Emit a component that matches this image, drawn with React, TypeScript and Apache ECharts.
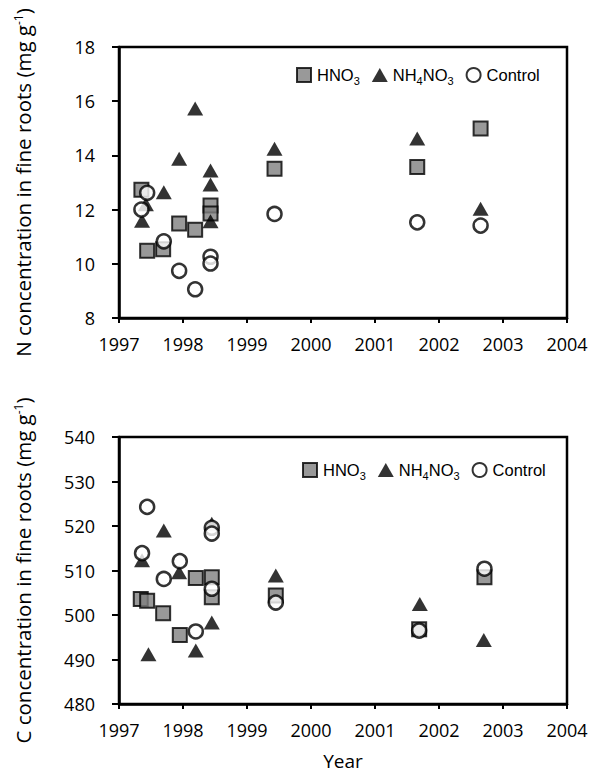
import React, { useEffect, useRef } from "react";
import * as echarts from "echarts";

// Year ticks
const yearMin = 1997;
const yearMax = 2004;

// Top panel: N concentration (mg g-1), points as [year, value]
const nHNO3: [number, number][] = [
  [1997.35, 12.73], [1997.44, 10.48], [1997.69, 10.54], [1997.94, 11.49],
  [1998.19, 11.26], [1998.43, 12.15], [1998.43, 11.86], [1999.43, 13.51],
  [2001.66, 13.57], [2002.65, 14.99],
];
const nNH4NO3: [number, number][] = [
  [1997.36, 11.59], [1997.42, 12.2], [1997.7, 12.64], [1997.94, 13.88],
  [1998.19, 15.73], [1998.43, 13.44], [1998.43, 12.93], [1998.43, 11.57],
  [1999.43, 14.25], [2001.66, 14.62], [2002.65, 12.03],
];
const nControl: [number, number][] = [
  [1997.44, 12.62], [1997.35, 12.0], [1997.7, 10.83], [1997.94, 9.74],
  [1998.19, 9.06], [1998.43, 10.26], [1998.43, 10.01], [1999.43, 11.84],
  [2001.66, 11.53], [2002.65, 11.41],
];

// Bottom panel: C concentration (mg g-1)
const cHNO3: [number, number][] = [
  [1997.34, 503.6], [1997.44, 503.2], [1997.69, 500.4], [1997.95, 495.5],
  [1998.2, 508.3], [1998.45, 508.5], [1998.45, 504.0], [1999.45, 504.4],
  [2001.69, 496.8], [2002.71, 508.5],
];
const cNH4NO3: [number, number][] = [
  [1997.36, 512.3], [1997.46, 491.2], [1997.7, 519.0], [1997.94, 509.6],
  [1998.2, 492.0], [1998.45, 520.5], [1998.45, 498.3], [1999.45, 508.9],
  [2001.7, 502.5], [2002.7, 494.4],
];
const cControl: [number, number][] = [
  [1997.36, 513.9], [1997.44, 524.3], [1997.7, 508.1], [1997.95, 512.1],
  [1998.2, 496.3], [1998.45, 519.6], [1998.45, 518.3], [1998.45, 505.9],
  [1999.45, 502.8], [2001.69, 496.5], [2002.71, 510.4],
];

const seriesNames = ["HNO3", "NH4NO3", "Control"];
const legendLabels: Record<string, string> = {
  HNO3: "HNO{sub|3}",
  NH4NO3: "NH{sub|4}NO{sub|3}",
  Control: "Control",
};

const tickFont = "Open Sans";
const legendFont = "Liberation Sans";

export default function App() {
  const ref = useRef<HTMLDivElement>(null);

  useEffect(() => {
    if (!ref.current) return;
    const chart = echarts.init(ref.current, null, { renderer: "svg" });

    const axisLine = { show: true, lineStyle: { color: "#000", width: 2.5 } };
    const yLabel = { color: "#000", fontFamily: tickFont, fontSize: 18, margin: 24 };
    const xLabel = {
      color: "#000",
      fontFamily: tickFont,
      fontSize: 18,
      margin: 17,
      formatter: (v: number) => String(v),
    };
    const nameStyle = {
      color: "#000",
      fontFamily: tickFont,
      fontSize: 20.5,
      rich: {
        sup: {
          fontFamily: tickFont,
          fontSize: 12,
          color: "#000",
          verticalAlign: "top",
          lineHeight: 12,
        },
      },
    };

    const styles: Record<string, any> = {
      HNO3: {
        symbol: "rect",
        symbolSize: 14,
        itemStyle: { color: "#808080", borderColor: "#000", borderWidth: 2 },
      },
      NH4NO3: {
        symbol: "triangle",
        symbolSize: [16, 14],
        itemStyle: { color: "#000" },
      },
      Control: {
        symbol: "circle",
        symbolSize: 14,
        itemStyle: { color: "#fff", borderColor: "#000", borderWidth: 2.5 },
      },
    };

    const mk = (name: string, data: [number, number][], idx: number) => ({
      type: "scatter",
      name,
      xAxisIndex: idx,
      yAxisIndex: idx,
      data,
      ...styles[name],
      emphasis: { disabled: true },
    });

    const legendCommon = {
      orient: "horizontal",
      itemWidth: 16,
      itemHeight: 14,
      itemGap: 12,
      selectedMode: false,
      data: [
        { name: "HNO3", icon: "path://M0,0H10V10H0Z" },
        { name: "NH4NO3", icon: "triangle" },
        { name: "Control", icon: "circle" },
      ],
      formatter: (n: string) => legendLabels[n] ?? n,
      textStyle: {
        color: "#000",
        fontFamily: legendFont,
        fontSize: 16.5,
        lineHeight: 22,
        rich: {
          sub: {
            fontFamily: legendFont,
            fontSize: 11,
            color: "#000",
            verticalAlign: "bottom",
            lineHeight: 11,
          },
        },
      },
    };

    chart.setOption({
      animation: false,
      backgroundColor: "#fff",
      grid: [
        { left: 119, top: 47, width: 448, height: 271, show: true, borderColor: "#000", borderWidth: 2.5, backgroundColor: "transparent" },
        { left: 119, top: 437, width: 448, height: 267, show: true, borderColor: "#000", borderWidth: 2.5, backgroundColor: "transparent" },
      ],
      legend: [
        { ...legendCommon, left: 291, top: 59 },
        { ...legendCommon, left: 297, top: 454 },
      ],
      xAxis: [0, 1].map((i) => ({
        type: "value",
        gridIndex: i,
        min: yearMin,
        max: yearMax,
        interval: 1,
        axisLine,
        axisTick: { show: true, length: 5, lineStyle: { color: "#000", width: 2 } },
        axisLabel: xLabel,
        splitLine: { show: false },
        ...(i === 1
          ? {
              name: "Year",
              nameLocation: "middle",
              nameGap: 47,
              nameTextStyle: { color: "#000", fontFamily: tickFont, fontSize: 19 },
            }
          : {}),
      })),
      yAxis: [
        {
          type: "value",
          gridIndex: 0,
          min: 8,
          max: 18,
          interval: 2,
          axisLine,
          axisTick: { show: true, length: 7, lineStyle: { color: "#000", width: 2 } },
          axisLabel: yLabel,
          splitLine: { show: false },
          name: "N concentration in fine roots (mg g{sup|-1})",
          nameLocation: "middle",
          nameGap: 86,
          nameTextStyle: nameStyle,
        },
        {
          type: "value",
          gridIndex: 1,
          min: 480,
          max: 540,
          interval: 10,
          axisLine,
          axisTick: { show: true, length: 7, lineStyle: { color: "#000", width: 2 } },
          axisLabel: yLabel,
          splitLine: { show: false },
          name: "C concentration in fine roots (mg g{sup|-1})",
          nameLocation: "middle",
          nameGap: 86,
          nameTextStyle: nameStyle,
        },
      ],
      series: [
        mk(seriesNames[0], nHNO3, 0),
        mk(seriesNames[1], nNH4NO3, 0),
        mk(seriesNames[2], nControl, 0),
        mk(seriesNames[0], cHNO3, 1),
        mk(seriesNames[1], cNH4NO3, 1),
        mk(seriesNames[2], cControl, 1),
      ],
    });

    return () => chart.dispose();
  }, []);

  return (
    <div
      ref={ref}
      style={{ position: "absolute", left: 0, top: 0, width: 592, height: 773 }}
    />
  );
}
